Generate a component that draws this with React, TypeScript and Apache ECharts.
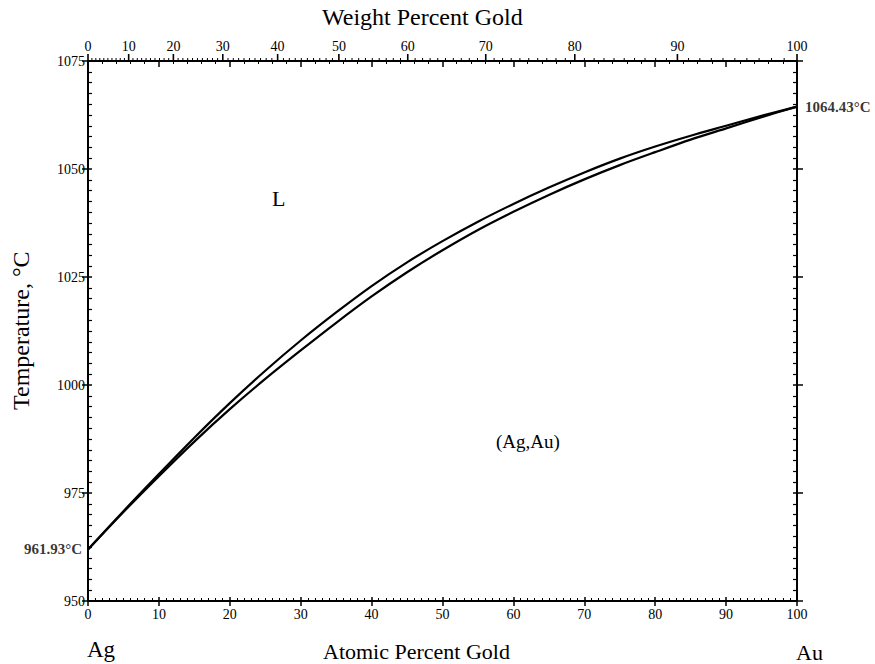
import React, { useEffect, useRef } from "react";
import * as echarts from "echarts";

// Atomic percent gold (x positions of the read-off points)
const atomicPercent = [0, 5, 10, 15, 20, 25, 30, 35, 40, 45, 50, 55, 60, 65, 70, 75, 80, 85, 90, 95, 100];
// Liquidus (upper curve), °C
const liquidus = [961.93, 970.8, 979.4, 987.8, 995.8, 1003.3, 1010.3, 1016.8, 1022.9, 1028.4, 1033.3, 1037.8, 1041.9, 1045.7, 1049.2, 1052.4, 1055.2, 1057.7, 1060.0, 1062.3, 1064.43];
// Solidus (lower curve), °C
const solidus = [961.93, 970.6, 978.9, 986.9, 994.4, 1001.4, 1008.0, 1014.4, 1020.5, 1026.1, 1031.2, 1035.9, 1040.1, 1044.0, 1047.6, 1050.9, 1053.9, 1056.8, 1059.4, 1062.0, 1064.43];

const tempMin = 950;
const tempMax = 1075;
const tempStep = 25;
const atomicStep = 10;
const weightMajorTicks = [0, 10, 20, 30, 40, 50, 60, 70, 80, 90, 100];
const weightMinorStep = 1;

const M_AU = 196.97;
const M_AG = 107.87;
function weightToAtomic(w: number): number {
  if (w <= 0) return 0;
  if (w >= 100) return 100;
  const a = w / M_AU;
  const b = (100 - w) / M_AG;
  return (100 * a) / (a + b);
}

const FONT = "'Liberation Serif', 'Times New Roman', serif";

export default function App() {
  const ref = useRef<HTMLDivElement>(null);

  useEffect(() => {
    if (!ref.current) return;
    const chart = echarts.init(ref.current, undefined, { renderer: "svg" });

    const weightTickData: number[][] = [];
    for (let w = 0; w <= 100; w += weightMinorStep) weightTickData.push([w]);

    const black = "#000";
    const plain = (v: number) => String(v);
    const option: any = {
      animation: false,
      backgroundColor: "#fff",
      grid: { left: 88, right: 78, top: 61, bottom: 63, containLabel: false },
      xAxis: [
        {
          type: "value",
          position: "bottom",
          min: 0,
          max: 100,
          interval: atomicStep,
          axisLine: { show: true, onZero: false, lineStyle: { color: black, width: 2 } },
          axisTick: { show: true, inside: false, length: 5, lineStyle: { color: black, width: 1.5 } },
          axisLabel: { color: black, fontSize: 14, fontFamily: FONT, margin: 6, formatter: plain },
          splitLine: { show: false },
        },
        {
          type: "value",
          position: "top",
          min: 0,
          max: 100,
          interval: atomicStep,
          axisLine: { show: true, onZero: false, lineStyle: { color: black, width: 2 } },
          axisTick: { show: true, inside: true, length: 6, lineStyle: { color: black, width: 1.5 } },
          minorTick: { show: true, splitNumber: 5, length: 3, lineStyle: { color: black, width: 1 } },
          axisLabel: { show: false },
          splitLine: { show: false },
        },
        {
          type: "value",
          position: "bottom",
          min: 0,
          max: 100,
          interval: atomicStep,
          axisLine: { show: false, onZero: false },
          axisTick: { show: true, inside: true, length: 4, lineStyle: { color: black, width: 1.5 } },
          minorTick: { show: true, splitNumber: 10, length: 3, lineStyle: { color: black, width: 1 } },
          axisLabel: { show: false },
          splitLine: { show: false },
        },
      ],
      yAxis: [
        {
          type: "value",
          position: "left",
          min: tempMin,
          max: tempMax,
          interval: tempStep,
          axisLine: { show: true, onZero: false, lineStyle: { color: black, width: 2 } },
          axisTick: { show: true, inside: false, length: 6, lineStyle: { color: black, width: 1.5 } },
          axisLabel: { color: black, fontSize: 14, fontFamily: FONT, margin: 3, formatter: plain },
          splitLine: { show: false },
        },
        {
          type: "value",
          position: "left",
          min: tempMin,
          max: tempMax,
          interval: tempStep,
          axisLine: { show: false, onZero: false },
          axisTick: { show: true, inside: true, length: 4, lineStyle: { color: black, width: 1.5 } },
          minorTick: { show: true, splitNumber: 10, length: 4, lineStyle: { color: black, width: 1.2 } },
          axisLabel: { show: false },
          splitLine: { show: false },
        },
        {
          type: "value",
          position: "right",
          min: tempMin,
          max: tempMax,
          interval: tempStep,
          axisLine: { show: true, onZero: false, lineStyle: { color: black, width: 2 } },
          axisTick: { show: true, inside: false, length: 6, lineStyle: { color: black, width: 1.5 } },
          axisLabel: { show: false },
          splitLine: { show: false },
        },
        {
          type: "value",
          position: "right",
          min: tempMin,
          max: tempMax,
          interval: tempStep,
          axisLine: { show: false, onZero: false },
          axisTick: { show: true, inside: true, length: 4, lineStyle: { color: black, width: 1.5 } },
          minorTick: { show: true, splitNumber: 10, length: 4, lineStyle: { color: black, width: 1.2 } },
          axisLabel: { show: false },
          splitLine: { show: false },
        },
      ],
      series: [
        {
          name: "Liquidus",
          type: "line",
          xAxisIndex: 0,
          yAxisIndex: 0,
          data: atomicPercent.map((x, i) => [x, liquidus[i]]),
          smooth: 0.3,
          showSymbol: false,
          lineStyle: { color: black, width: 2.2 },
          silent: true,
        },
        {
          name: "Solidus",
          type: "line",
          xAxisIndex: 0,
          yAxisIndex: 0,
          data: atomicPercent.map((x, i) => [x, solidus[i]]),
          smooth: 0.3,
          showSymbol: false,
          lineStyle: { color: black, width: 2.2 },
          silent: true,
        },
        {
          name: "Melting points",
          type: "scatter",
          xAxisIndex: 0,
          yAxisIndex: 0,
          symbolSize: 0,
          silent: true,
          label: {
            show: true,
            color: black,
            fontFamily: FONT,
            fontWeight: "bold",
            fontSize: 15,
          },
          data: [
            {
              value: [atomicPercent[0], liquidus[0]],
              label: { position: "left", distance: 6, formatter: `${liquidus[0]}°C` },
            },
            {
              value: [atomicPercent[atomicPercent.length - 1], liquidus[liquidus.length - 1]],
              label: { position: "right", distance: 8, formatter: `${liquidus[liquidus.length - 1]}°C` },
            },
          ],
        },
        {
          name: "Weight percent axis",
          type: "custom",
          xAxisIndex: 1,
          yAxisIndex: 0,
          clip: false,
          silent: true,
          data: weightTickData,
          renderItem: (_params: any, api: any) => {
            const w = api.value(0);
            const major = weightMajorTicks.indexOf(w) >= 0;
            const p = api.coord([weightToAtomic(w), tempMax]);
            const len = major ? 7 : 3;
            const children: any[] = [
              {
                type: "line",
                shape: { x1: p[0], y1: p[1], x2: p[0], y2: p[1] - len },
                style: { stroke: black, lineWidth: major ? 1.6 : 1 },
              },
            ];
            if (major) {
              children.push({
                type: "text",
                x: p[0],
                y: p[1] - 8,
                style: {
                  text: String(w),
                  fill: black,
                  fontSize: 14,
                  fontFamily: FONT,
                  textAlign: "center",
                  align: "center",
                  textVerticalAlign: "bottom",
                  verticalAlign: "bottom",
                },
              });
            }
            return { type: "group", children };
          },
        },
      ],
      graphic: [
        {
          type: "text",
          left: 322,
          top: 5,
          style: { text: "Weight Percent Gold", fill: black, fontSize: 24, fontFamily: FONT },
        },
        {
          type: "text",
          left: 323,
          top: 640,
          style: { text: "Atomic Percent Gold", fill: black, fontSize: 22, fontFamily: FONT },
        },
        {
          type: "text",
          left: 87,
          top: 638,
          style: { text: "Ag", fill: black, fontSize: 23, fontFamily: FONT },
        },
        {
          type: "text",
          left: 796,
          top: 641,
          style: { text: "Au", fill: black, fontSize: 22, fontFamily: FONT },
        },
        {
          type: "text",
          left: 272,
          top: 187,
          style: { text: "L", fill: black, fontSize: 22, fontFamily: FONT },
        },
        {
          type: "text",
          left: 496,
          top: 432,
          style: { text: "(Ag,Au)", fill: black, fontSize: 19, fontFamily: FONT },
        },
        {
          type: "text",
          x: 9,
          y: 410,
          rotation: Math.PI / 2,
          style: {
            text: "Temperature, °C",
            fill: black,
            fontSize: 24,
            fontFamily: FONT,
            textAlign: "left",
            align: "left",
            textVerticalAlign: "top",
            verticalAlign: "top",
          },
        },
      ],
    };

    chart.setOption(option);
    return () => {
      chart.dispose();
    };
  }, []);

  return (
    <div
      ref={ref}
      style={{ position: "fixed", left: 0, top: 0, width: 875, height: 664, background: "#fff" }}
    />
  );
}
